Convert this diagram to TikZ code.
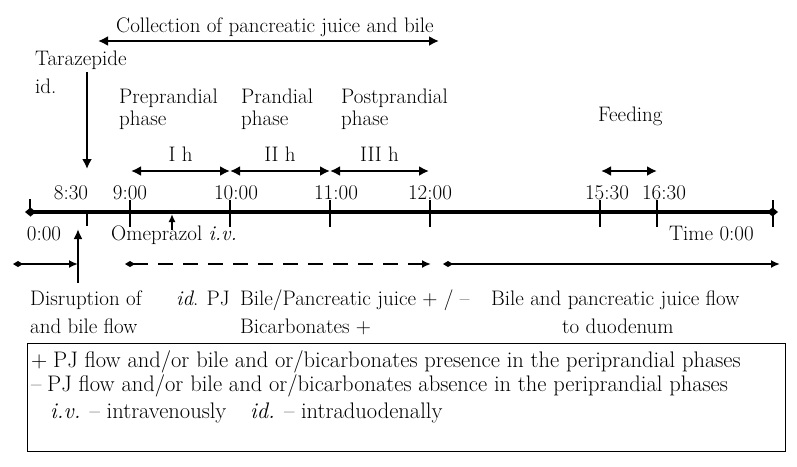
\documentclass[tikz,border=0pt]{standalone}
\usepackage{fontspec}
\usetikzlibrary{arrows.meta,positioning}

\begin{document}
\begin{tikzpicture}[
        x=1pt, y=-1pt,
        every node/.style={inner sep=0pt, font=\fontsize{21}{23}\selectfont},
        txt/.style={anchor=base west},
        ctxt/.style={anchor=base},
        legtxt/.style={anchor=base west, font=\fontsize{22.5}{24}\selectfont},
        span/.style={line width=2.6pt, {Latex[length=10pt,width=10pt]}-{Latex[length=10pt,width=10pt]}},
        pointer/.style={line width=2.4pt, -{Latex[length=10pt,width=10pt]}},
        flow/.style={line width=2pt, {Diamond[length=10pt,width=6pt]}-{Latex[length=9pt,width=8pt]}},
        tick/.style={line width=1.3pt},
    ]
    \useasboundingbox (0,0) rectangle (797,466);

    % title and collection period
    \node[ctxt] (coll) at (275,32) {Collection of pancreatic juice and bile};
    \coordinate (c1) at (98,41);
    \coordinate (c2) at (439,41);
    \draw[span] (c1) -- (c2);

    % Tarazepide
    \node[txt] (tara) at (35,65) {Tarazepide};
    \node[txt] (taraid) at (35,93) {id.};
    \coordinate (d1) at (87,72);
    \coordinate (d2) at (87,169);
    \draw[pointer] (d1) -- (d2);

    % phases
    \node[txt] (pre) at (119,103) {Preprandial};
    \node[txt] (preph) at (119,125) {phase};
    \node[txt] (pra) at (241,103) {Prandial};
    \node[txt] (praph) at (241,125) {phase};
    \node[txt] (post) at (341,103) {Postprandial};
    \node[txt] (postph) at (341,125) {phase};
    \node[txt] (feed) at (598,121) {Feeding};

    \coordinate (p1) at (131,171);
    \coordinate (p2) at (230,171);
    \coordinate (p3) at (330,171);
    \coordinate (p4) at (429,171);
    \draw[span] (p1) -- (p2) node[midway, above=8pt] {I h};
    \draw[span] (p2) -- (p3) node[midway, above=8pt] {II h};
    \draw[span] (p3) -- (p4) node[midway, above=8pt] {III h};
    \coordinate (f1) at (601,171);
    \coordinate (f2) at (657,171);
    \draw[span] (f1) -- (f2);

    % time axis
    \coordinate (tl) at (25,212);
    \coordinate (tr) at (778,212);
    \draw[line width=3.6pt, {Diamond[length=11pt,width=9pt]}-{Diamond[length=11pt,width=9pt]}] (tl) -- (tr);
    \draw[tick] (30,199) -- (30,212);
    \draw[tick] (87,212) -- (87,226);
    \foreach \x/\n in {130/k900, 230/k1000, 330/k1100, 430/k1200, 600/k1530, 657/k1630, 773/kend}
        \draw[tick] (\x,200) -- (\x,227);

    \node[ctxt] (t830) at (71,199) {8:30};
    \node[ctxt] (t900) at (130,199) {9:00};
    \node[ctxt] (t1000) at (236,199) {10:00};
    \node[ctxt] (t1100) at (336,199) {11:00};
    \node[ctxt] (t1200) at (430,199) {12:00};
    \node[ctxt] (t1530) at (607,199) {15:30};
    \node[ctxt] (t1630) at (664,199) {16:30};
    \node[ctxt] (t0) at (44,240) {0:00};
    \node[txt] (time) at (669,240) {Time 0:00};

    % omeprazol
    \node[txt] (omep) at (111,240) {Omeprazol \textit{i.v.}};
    \coordinate (o1) at (172,230);
    \coordinate (o2) at (172,214);
    \draw[line width=1.8pt, -{Latex[length=8pt,width=7pt]}] (o1) -- (o2);

    % flow periods
    \coordinate (b1) at (13,264);
    \coordinate (b2) at (78,264);
    \coordinate (b3) at (125,264);
    \coordinate (b4) at (431,264);
    \coordinate (b5) at (443,264);
    \coordinate (b6) at (780,264);
    \coordinate (v1) at (78,283);
    \coordinate (v2) at (78,229);
    \draw[flow] (b1) -- (b2);
    \draw[line width=2pt, -{Latex[length=10pt,width=9pt]}] (v1) -- (v2);
    \draw[flow, dash pattern=on 15pt off 10pt] (b3) -- (b4);
    \draw[flow] (b5) -- (b6);

    \node[txt] (disr) at (30,305) {Disruption of};
    \node[txt] (disr2) at (30,333) {and bile flow};
    \node[txt] (idpj) at (176,305) {\textit{id}. PJ};
    \node[txt] (bile) at (240,305) {Bile/Pancreatic juice + / --};
    \node[txt] (bicarb) at (240,333) {Bicarbonates +};
    \node[txt] (duo) at (491,305) {Bile and pancreatic juice flow};
    \node[txt] (duo2) at (562,333) {to duodenum};

    % legend
    \node[draw, line width=1.2pt, minimum width=758pt, minimum height=108pt, anchor=north west] (legend) at (27,343) {};
    \node[legtxt] (plus) at (31,367) {+};
    \node[legtxt] (pres) at (53,367) {PJ flow and/or bile and or/bicarbonates presence in the periprandial phases};
    \node[legtxt] (minus) at (31,391) {--};
    \node[legtxt] (abs) at (47,391) {PJ flow and/or bile and or/bicarbonates absence in the periprandial phases};
    \node[legtxt] (iv) at (50,418) {\textit{i.v.} -- intravenously};
    \node[legtxt] (id) at (250,418) {\textit{id.} -- intraduodenally};
\end{tikzpicture}
\end{document}
